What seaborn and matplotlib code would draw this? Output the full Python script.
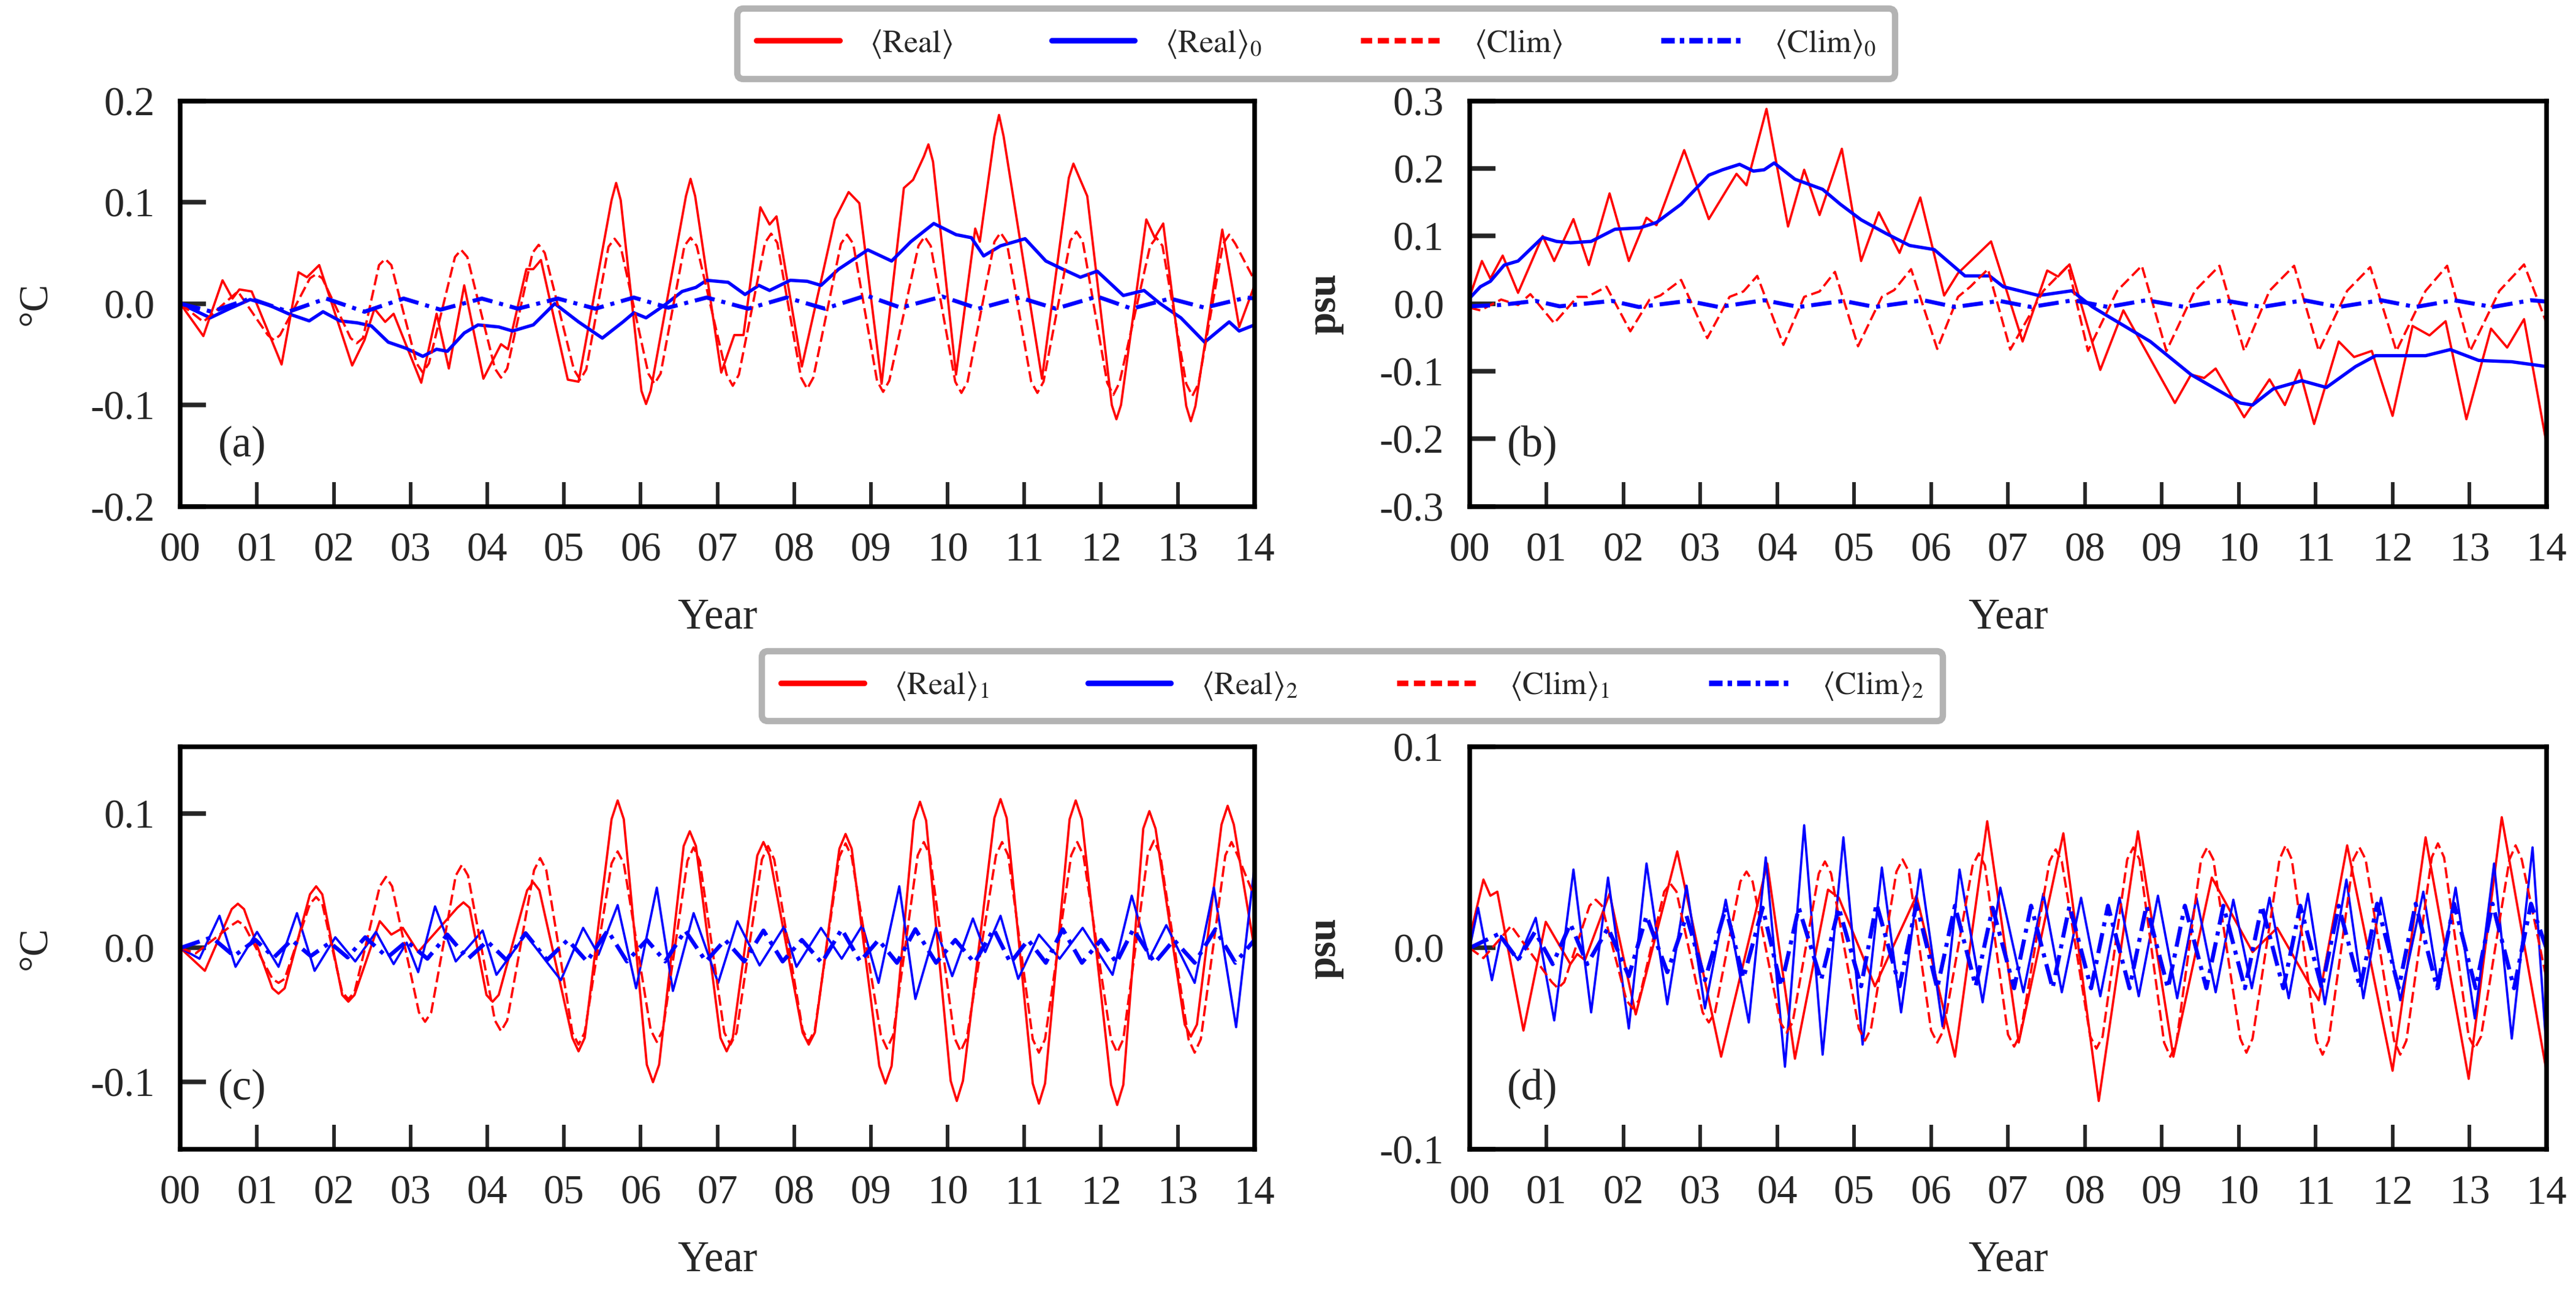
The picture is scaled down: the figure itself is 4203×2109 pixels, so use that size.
import pandas as pd
import matplotlib
matplotlib.use("Agg")
import matplotlib.pyplot as plt
import seaborn as sns
from matplotlib.lines import Line2D

# --- DATA ((year, value) pairs) ---
year_ticks = list(range(15))
year_labels = ["00", "01", "02", "03", "04", "05", "06", "07",
               "08", "09", "10", "11", "12", "13", "14"]

top_names = ["Real", "Real0", "Clim", "Clim0"]
top_labels = [r"$\langle\mathrm{Real}\rangle$", r"$\langle\mathrm{Real}\rangle_0$",
              r"$\langle\mathrm{Clim}\rangle$", r"$\langle\mathrm{Clim}\rangle_0$"]
bot_names = ["Real1", "Real2", "Clim1", "Clim2"]
bot_labels = [r"$\langle\mathrm{Real}\rangle_1$", r"$\langle\mathrm{Real}\rangle_2$",
              r"$\langle\mathrm{Clim}\rangle_1$", r"$\langle\mathrm{Clim}\rangle_2$"]

# (a) temperature, degC
a_real = [(0, 0), (0.30, -0.032), (0.55, 0.023), (0.68, 0.005), (0.77, 0.014), (0.93, 0.012),
          (1.32, -0.060), (1.54, 0.031), (1.65, 0.026), (1.81, 0.038), (2.24, -0.061), (2.40, -0.036),
          (2.53, -0.005), (2.67, -0.018), (2.78, -0.010), (3.14, -0.078), (3.34, -0.010), (3.50, -0.064),
          (3.70, 0.018), (3.95, -0.074), (4.18, -0.040), (4.27, -0.045), (4.51, 0.034), (4.60, 0.034),
          (4.70, 0.043), (5.05, -0.075), (5.19, -0.077), (5.62, 0.102), (5.68, 0.119), (5.74, 0.102),
          (6.01, -0.086), (6.07, -0.099), (6.13, -0.086), (6.59, 0.106), (6.65, 0.123), (6.71, 0.106),
          (7.05, -0.068), (7.22, -0.031), (7.34, -0.031), (7.56, 0.095), (7.68, 0.078), (7.77, 0.086),
          (8.10, -0.062), (8.53, 0.083), (8.71, 0.110), (8.85, 0.099), (9.14, -0.079), (9.43, 0.114),
          (9.55, 0.122), (9.69, 0.145), (9.75, 0.157), (9.81, 0.140), (10.11, -0.070), (10.36, 0.074),
          (10.42, 0.061), (10.61, 0.165), (10.67, 0.186), (10.73, 0.165), (11.23, -0.074), (11.58, 0.124),
          (11.64, 0.138), (11.82, 0.106), (12.14, -0.100), (12.20, -0.114), (12.26, -0.100), (12.59, 0.083),
          (12.70, 0.065), (12.81, 0.079), (13.11, -0.101), (13.17, -0.116), (13.23, -0.101), (13.58, 0.073),
          (13.80, -0.023), (14.0, 0.018)]
a_real0 = [(0, 0), (0.39, -0.014), (0.64, -0.005), (0.91, 0.004), (1.14, -0.001), (1.41, -0.010),
           (1.68, -0.017), (1.86, -0.008), (2.08, -0.017), (2.31, -0.019), (2.49, -0.022), (2.71, -0.038),
           (2.94, -0.044), (3.16, -0.052), (3.34, -0.045), (3.48, -0.047), (3.70, -0.029), (3.88, -0.021),
           (4.15, -0.023), (4.33, -0.027), (4.60, -0.021), (4.88, 0.000), (5.19, -0.018), (5.50, -0.034),
           (5.77, -0.018), (5.91, -0.009), (6.07, -0.014), (6.32, -0.001), (6.54, 0.012), (6.72, 0.016),
           (6.86, 0.023), (7.14, 0.021), (7.36, 0.009), (7.54, 0.018), (7.68, 0.013), (7.95, 0.023),
           (8.17, 0.022), (8.35, 0.018), (8.58, 0.034), (8.96, 0.053), (9.27, 0.042), (9.52, 0.061),
           (9.82, 0.079), (10.11, 0.068), (10.31, 0.065), (10.47, 0.047), (10.69, 0.057), (11.01, 0.064),
           (11.28, 0.042), (11.50, 0.034), (11.73, 0.026), (11.95, 0.032), (12.29, 0.008), (12.56, 0.013),
           (12.77, 0.000), (13.04, -0.014), (13.35, -0.038), (13.67, -0.018), (13.80, -0.027), (14.0, -0.021)]
a_clim = [(0, 0), (0.30, -0.018), (0.75, 0.012),
          (1.14, -0.031), (1.22, -0.036), (1.30, -0.031), (1.69, 0.025), (1.77, 0.029), (1.85, 0.025),
          (2.22, -0.034), (2.30, -0.039), (2.38, -0.034), (2.59, 0.038), (2.67, 0.044), (2.75, 0.038),
          (3.08, -0.059), (3.16, -0.068), (3.24, -0.059), (3.58, 0.046), (3.66, 0.053), (3.74, 0.046),
          (4.10, -0.064), (4.18, -0.073), (4.26, -0.064), (4.59, 0.050), (4.67, 0.058), (4.75, 0.050),
          (5.13, -0.065), (5.21, -0.075), (5.29, -0.065), (5.58, 0.056), (5.66, 0.064), (5.74, 0.056),
          (6.10, -0.069), (6.18, -0.079), (6.26, -0.069), (6.57, 0.057), (6.65, 0.065), (6.73, 0.057),
          (7.12, -0.070), (7.20, -0.081), (7.28, -0.070), (7.62, 0.060), (7.70, 0.069), (7.78, 0.060),
          (8.09, -0.073), (8.17, -0.084), (8.25, -0.073), (8.61, 0.059), (8.69, 0.068), (8.77, 0.059),
          (9.08, -0.076), (9.16, -0.087), (9.24, -0.076), (9.62, 0.057), (9.70, 0.066), (9.78, 0.057),
          (10.10, -0.077), (10.18, -0.088), (10.26, -0.077), (10.61, 0.061), (10.69, 0.070), (10.77, 0.061),
          (11.09, -0.077), (11.17, -0.088), (11.25, -0.077), (11.60, 0.062), (11.68, 0.071), (11.76, 0.062),
          (12.08, -0.078), (12.16, -0.090), (12.24, -0.078), (12.64, 0.057), (12.72, 0.065), (12.80, 0.057),
          (13.11, -0.079), (13.19, -0.091), (13.27, -0.079), (13.59, 0.059), (13.67, 0.068), (13.75, 0.059),
          (14.0, 0.023)]
a_clim0 = [(0, 0), (0.41, -0.008), (0.91, 0.005), (1.41, -0.008), (1.90, 0.005), (2.40, -0.008),
           (2.91, 0.005), (3.39, -0.006), (3.93, 0.005), (4.40, -0.005), (4.92, 0.005), (5.41, -0.005),
           (5.91, 0.006), (6.36, -0.004), (6.86, 0.006), (7.40, -0.005), (7.90, 0.006), (8.40, -0.005),
           (8.94, 0.008), (9.39, -0.004), (9.93, 0.007), (10.40, -0.005), (10.94, 0.006), (11.41, -0.005),
           (11.95, 0.007), (12.40, -0.005), (12.90, 0.005), (13.35, -0.004), (13.90, 0.006), (14.0, 0.005)]

# (b) salinity, psu
b_real = [(0, 0.010), (0.16, 0.063), (0.27, 0.037), (0.43, 0.071), (0.63, 0.016), (0.95, 0.100),
          (1.10, 0.063), (1.35, 0.125), (1.55, 0.057), (1.82, 0.163), (2.07, 0.063), (2.30, 0.127),
          (2.43, 0.116), (2.79, 0.227), (3.11, 0.125), (3.47, 0.192), (3.60, 0.175), (3.86, 0.288),
          (4.14, 0.114), (4.35, 0.198), (4.55, 0.131), (4.84, 0.229), (5.09, 0.063), (5.32, 0.135),
          (5.59, 0.075), (5.86, 0.157), (6.17, 0.012), (6.35, 0.045), (6.78, 0.092), (7.19, -0.056),
          (7.51, 0.049), (7.65, 0.040), (7.80, 0.058), (8.20, -0.098), (8.50, -0.010), (9.17, -0.147),
          (9.38, -0.105), (9.55, -0.110), (9.70, -0.096), (10.07, -0.168), (10.40, -0.112), (10.60, -0.150),
          (10.79, -0.098), (10.98, -0.178), (11.30, -0.056), (11.50, -0.079), (11.73, -0.070), (12.00, -0.166),
          (12.26, -0.033), (12.48, -0.047), (12.69, -0.026), (12.96, -0.171), (13.28, -0.037), (13.49, -0.065),
          (13.71, -0.023), (14.0, -0.206)]
b_real0 = [(0, 0.008), (0.14, 0.025), (0.27, 0.033), (0.45, 0.057), (0.63, 0.063), (0.95, 0.098),
           (1.13, 0.092), (1.31, 0.090), (1.58, 0.092), (1.89, 0.110), (2.21, 0.112), (2.43, 0.120),
           (2.75, 0.147), (3.11, 0.190), (3.29, 0.198), (3.51, 0.206), (3.69, 0.196), (3.83, 0.198),
           (3.96, 0.208), (4.23, 0.184), (4.59, 0.169), (4.82, 0.147), (5.09, 0.124), (5.41, 0.104),
           (5.72, 0.086), (6.04, 0.080), (6.44, 0.041), (6.76, 0.041), (6.94, 0.025), (7.40, 0.012),
           (7.83, 0.019), (8.10, -0.005), (8.85, -0.056), (9.38, -0.105), (10.02, -0.147), (10.18, -0.150),
           (10.45, -0.126), (10.82, -0.114), (11.14, -0.124), (11.52, -0.093), (11.78, -0.077), (12.43, -0.077),
           (12.75, -0.068), (13.12, -0.084), (13.55, -0.086), (14.0, -0.093)]
b_clim = [(0, -0.006), (0.14, -0.010), (0.41, 0.006), (0.63, -0.002), (0.79, 0.014), (1.10, -0.029),
          (1.40, 0.010), (1.53, 0.010), (1.78, 0.025), (2.09, -0.041), (2.34, 0.006), (2.48, 0.012),
          (2.75, 0.035), (3.09, -0.051), (3.38, 0.010), (3.56, 0.018), (3.74, 0.041), (4.08, -0.061),
          (4.35, 0.010), (4.55, 0.018), (4.75, 0.047), (5.05, -0.063), (5.36, 0.010), (5.52, 0.020),
          (5.74, 0.051), (6.08, -0.067), (6.35, 0.010), (6.51, 0.025), (6.74, 0.051), (7.03, -0.068),
          (7.46, 0.019), (7.78, 0.056), (8.04, -0.070), (8.42, 0.019), (8.74, 0.056), (9.06, -0.070),
          (9.43, 0.019), (9.75, 0.056), (10.07, -0.070), (10.40, 0.019), (10.72, 0.056), (11.04, -0.070),
          (11.41, 0.019), (11.71, 0.054), (12.05, -0.070), (12.43, 0.019), (12.71, 0.056), (13.01, -0.070),
          (13.39, 0.019), (13.71, 0.058), (14.0, -0.028)]
b_clim0 = [(0, -0.004), (0.40, -0.002), (0.86, 0.004), (1.17, -0.004), (1.85, 0.004), (2.20, -0.005),
           (2.84, 0.004), (3.24, -0.005), (3.83, 0.005), (4.28, -0.005), (4.86, 0.004), (5.27, -0.005),
           (5.90, 0.005), (6.31, -0.005), (6.89, 0.004), (7.30, -0.005), (7.85, 0.005), (8.30, -0.005),
           (8.80, 0.005), (9.30, -0.005), (9.80, 0.005), (10.30, -0.005), (10.85, 0.005), (11.30, -0.005),
           (11.85, 0.005), (12.30, -0.005), (12.80, 0.005), (13.30, -0.005), (13.80, 0.005), (14.0, 0.003)]

# (c) temperature components, degC
c_real1 = [(0, 0), (0.32, -0.017),
           (0.67, 0.029), (0.75, 0.033), (0.83, 0.029), (1.20, -0.030), (1.28, -0.034), (1.36, -0.030),
           (1.69, 0.040), (1.77, 0.046), (1.85, 0.040), (2.11, -0.035), (2.19, -0.040), (2.27, -0.035),
           (2.60, 0.020), (2.75, 0.010), (2.90, 0.015), (3.10, -0.003),
           (3.61, 0.030), (3.69, 0.034), (3.77, 0.030), (3.99, -0.035), (4.07, -0.040), (4.15, -0.035),
           (4.52, 0.043), (4.60, 0.049), (4.68, 0.043), (5.11, -0.067), (5.19, -0.077), (5.27, -0.067),
           (5.62, 0.096), (5.70, 0.110), (5.78, 0.096), (6.08, -0.087), (6.16, -0.100), (6.24, -0.087),
           (6.56, 0.076), (6.64, 0.087), (6.72, 0.076), (7.04, -0.067), (7.12, -0.077), (7.20, -0.067),
           (7.52, 0.069), (7.60, 0.079), (7.68, 0.069), (8.11, -0.063), (8.19, -0.072), (8.27, -0.063),
           (8.59, 0.074), (8.67, 0.085), (8.75, 0.074), (9.11, -0.088), (9.19, -0.101), (9.27, -0.088),
           (9.56, 0.095), (9.64, 0.109), (9.72, 0.095), (10.04, -0.099), (10.12, -0.114), (10.20, -0.099),
           (10.61, 0.097), (10.69, 0.111), (10.77, 0.097), (11.11, -0.101), (11.19, -0.116), (11.27, -0.101),
           (11.59, 0.096), (11.67, 0.110), (11.75, 0.096), (12.13, -0.102), (12.21, -0.117), (12.29, -0.102),
           (12.55, 0.089), (12.63, 0.102), (12.71, 0.089), (13.09, -0.057), (13.17, -0.066), (13.25, -0.057),
           (13.57, 0.092), (13.65, 0.106), (13.73, 0.092), (14.0, -0.001)]
c_real2 = [(0, 0), (0.25, -0.008), (0.51, 0.024), (0.72, -0.014), (1.00, 0.012), (1.28, -0.014),
           (1.52, 0.026), (1.75, -0.017), (2.02, 0.008), (2.28, -0.010), (2.55, 0.012), (2.78, -0.012),
           (2.95, 0.004), (3.10, -0.018), (3.32, 0.031), (3.59, -0.010), (3.94, 0.013), (4.12, -0.020),
           (4.50, 0.010), (4.96, -0.024), (5.25, 0.015), (5.45, -0.005), (5.70, 0.032), (5.94, -0.030),
           (6.21, 0.045), (6.42, -0.032), (6.69, 0.026), (7.01, -0.026), (7.26, 0.020), (7.55, -0.013),
           (7.87, 0.016), (8.03, -0.014), (8.35, 0.015), (8.62, -0.008), (8.89, 0.017), (9.10, -0.026),
           (9.37, 0.046), (9.58, -0.038), (9.85, 0.015), (10.06, -0.021), (10.33, 0.022), (10.49, -0.003),
           (10.69, 0.024), (10.92, -0.023), (11.19, 0.010), (11.46, -0.008), (11.76, 0.015), (12.15, -0.020),
           (12.40, 0.039), (12.63, -0.008), (12.85, 0.017), (13.22, -0.026), (13.47, 0.045), (13.76, -0.059),
           (14.0, 0.061)]
c_clim1 = [(0, 0), (0.20, -0.004),
           (0.67, 0.017), (0.75, 0.020), (0.83, 0.017), (1.20, -0.023), (1.28, -0.026), (1.36, -0.023),
           (1.69, 0.033), (1.77, 0.038), (1.85, 0.033), (2.11, -0.033), (2.19, -0.038), (2.27, -0.033),
           (2.60, 0.046), (2.68, 0.053), (2.76, 0.046), (3.11, -0.048), (3.19, -0.055), (3.27, -0.048),
           (3.59, 0.054), (3.67, 0.062), (3.75, 0.054), (4.10, -0.054), (4.18, -0.062), (4.26, -0.054),
           (4.61, 0.058), (4.69, 0.067), (4.77, 0.058), (5.11, -0.063), (5.19, -0.072), (5.27, -0.063),
           (5.62, 0.063), (5.70, 0.072), (5.78, 0.063), (6.13, -0.061), (6.21, -0.070), (6.29, -0.061),
           (6.61, 0.065), (6.69, 0.075), (6.77, 0.065), (7.09, -0.063), (7.17, -0.072), (7.25, -0.063),
           (7.58, 0.066), (7.66, 0.076), (7.74, 0.066), (8.11, -0.061), (8.19, -0.070), (8.27, -0.061),
           (8.59, 0.068), (8.67, 0.078), (8.75, 0.068), (9.13, -0.065), (9.21, -0.075), (9.29, -0.065),
           (9.61, 0.069), (9.69, 0.079), (9.77, 0.069), (10.09, -0.067), (10.17, -0.077), (10.25, -0.067),
           (10.63, 0.069), (10.71, 0.079), (10.79, 0.069), (11.11, -0.068), (11.19, -0.078), (11.27, -0.068),
           (11.61, 0.069), (11.69, 0.079), (11.77, 0.069), (12.13, -0.068), (12.21, -0.078), (12.29, -0.068),
           (12.61, 0.070), (12.69, 0.080), (12.77, 0.070), (13.14, -0.068), (13.22, -0.078), (13.30, -0.068),
           (13.62, 0.069), (13.70, 0.079), (13.78, 0.069), (14.0, 0.038)]
c_clim2 = [(0, 0), (0.41, 0.008), (0.70, -0.006), (0.98, 0.006), (1.22, -0.007), (1.45, 0.006),
           (1.70, -0.006), (1.95, 0.004), (2.18, -0.007), (2.41, 0.008), (2.70, -0.007), (2.95, 0.005),
           (3.22, -0.008), (3.48, 0.010), (3.75, -0.008), (4.00, 0.005), (4.25, -0.009), (4.50, 0.011),
           (4.78, -0.009), (5.05, 0.006), (5.30, -0.010), (5.57, 0.013), (5.82, -0.010), (6.08, 0.006),
           (6.32, -0.010), (6.58, 0.013), (6.85, -0.010), (7.10, 0.006), (7.35, -0.010), (7.60, 0.013),
           (7.85, -0.010), (8.10, 0.006), (8.36, -0.011), (8.62, 0.014), (8.86, -0.010), (9.10, 0.006),
           (9.34, -0.011), (9.58, 0.014), (9.85, -0.011), (10.10, 0.006), (10.35, -0.011), (10.60, 0.014),
           (10.82, -0.011), (11.05, 0.006), (11.28, -0.011), (11.50, 0.014), (11.75, -0.011), (12.00, 0.006),
           (12.20, -0.011), (12.42, 0.014), (12.70, -0.011), (12.95, 0.006), (13.22, -0.011), (13.49, 0.014),
           (13.75, -0.011), (14.0, 0.006)]

# (d) salinity components, psu
d_real1 = [(0, 0.005), (0.18, 0.034), (0.27, 0.026), (0.36, 0.028), (0.70, -0.041), (0.99, 0.013),
           (1.31, -0.008), (1.40, -0.003), (1.50, -0.006), (1.82, 0.027), (2.16, -0.033), (2.70, 0.048),
           (3.27, -0.054), (3.87, 0.042), (4.23, -0.055), (4.66, 0.029), (4.80, 0.025), (5.27, -0.019),
           (5.81, 0.026), (6.31, -0.054), (6.73, 0.063), (7.14, -0.047), (7.72, 0.057), (8.18, -0.076),
           (8.69, 0.058), (9.15, -0.054), (9.65, 0.035), (10.18, -0.002), (10.50, 0.010), (11.04, -0.026),
           (11.41, 0.051), (12.00, -0.061), (12.43, 0.055), (12.99, -0.065), (13.42, 0.065), (14.0, -0.061)]
d_real2 = [(0, 0), (0.11, 0.020), (0.29, -0.016), (0.41, 0.006), (0.63, -0.006), (0.86, 0.015),
           (1.10, -0.036), (1.35, 0.039), (1.58, -0.032), (1.80, 0.035), (2.07, -0.040), (2.30, 0.042),
           (2.57, -0.028), (2.82, 0.031), (3.06, -0.030), (3.33, 0.024), (3.63, -0.037), (3.85, 0.045),
           (4.10, -0.059), (4.35, 0.061), (4.59, -0.053), (4.86, 0.055), (5.11, -0.048), (5.36, 0.040),
           (5.61, -0.032), (5.86, 0.039), (6.15, -0.039), (6.37, 0.039), (6.67, -0.027), (6.90, 0.030),
           (7.20, -0.022), (7.46, 0.027), (7.70, -0.022), (7.95, 0.025), (8.20, -0.024), (8.45, 0.025),
           (8.70, -0.024), (8.95, 0.026), (9.20, -0.025), (9.45, 0.025), (9.70, -0.022), (9.93, 0.024),
           (10.17, -0.020), (10.40, 0.025), (10.65, -0.025), (10.90, 0.027), (11.12, -0.028), (11.40, 0.034),
           (11.62, -0.025), (11.85, 0.025), (12.10, -0.026), (12.40, 0.028), (12.60, -0.020), (12.82, 0.030),
           (13.07, -0.035), (13.32, 0.042), (13.55, -0.045), (13.82, 0.050), (14.0, -0.050)]
d_clim1 = [(0, 0), (0.18, -0.005), (0.54, 0.011),
           (1.07, -0.017), (1.15, -0.020), (1.23, -0.017), (1.56, 0.021), (1.64, 0.024), (1.72, 0.021),
           (2.04, -0.026), (2.12, -0.030), (2.20, -0.026), (2.53, 0.028), (2.61, 0.032), (2.69, 0.028),
           (3.03, -0.032), (3.11, -0.037), (3.19, -0.032), (3.52, 0.033), (3.60, 0.038), (3.68, 0.033),
           (4.04, -0.037), (4.12, -0.042), (4.20, -0.037), (4.54, 0.037), (4.62, 0.043), (4.70, 0.037),
           (5.06, -0.040), (5.14, -0.046), (5.22, -0.040), (5.55, 0.038), (5.63, 0.044), (5.71, 0.038),
           (6.00, -0.041), (6.08, -0.047), (6.16, -0.041), (6.54, 0.041), (6.62, 0.047), (6.70, 0.041),
           (7.00, -0.043), (7.08, -0.049), (7.16, -0.043), (7.54, 0.043), (7.62, 0.049), (7.70, 0.043),
           (8.07, -0.044), (8.15, -0.050), (8.23, -0.044), (8.55, 0.044), (8.63, 0.050), (8.71, 0.044),
           (9.03, -0.047), (9.11, -0.054), (9.19, -0.047), (9.51, 0.044), (9.59, 0.050), (9.67, 0.044),
           (10.02, -0.045), (10.10, -0.052), (10.18, -0.045), (10.53, 0.044), (10.61, 0.051), (10.69, 0.044),
           (11.01, -0.046), (11.09, -0.053), (11.17, -0.046), (11.49, 0.044), (11.57, 0.050), (11.65, 0.044),
           (12.02, -0.046), (12.10, -0.053), (12.18, -0.046), (12.51, 0.045), (12.59, 0.052), (12.67, 0.045),
           (12.99, -0.044), (13.07, -0.050), (13.15, -0.044), (13.52, 0.044), (13.60, 0.051), (13.68, 0.044),
           (14.0, -0.015)]
d_clim2 = [(0, 0), (0.38, 0.007), (0.63, -0.006), (0.85, 0.008), (1.08, -0.008), (1.31, 0.012),
           (1.53, -0.008), (1.80, 0.010), (2.07, -0.014), (2.30, 0.016), (2.57, -0.012), (2.82, 0.016),
           (3.06, -0.016), (3.33, 0.020), (3.56, -0.015), (3.81, 0.020), (4.05, -0.019), (4.28, 0.020),
           (4.57, -0.016), (4.80, 0.020), (5.09, -0.019), (5.29, 0.022), (5.59, -0.019), (5.81, 0.022),
           (6.08, -0.020), (6.31, 0.021), (6.58, -0.019), (6.80, 0.020), (7.08, -0.020), (7.30, 0.021),
           (7.58, -0.020), (7.80, 0.021), (8.08, -0.020), (8.30, 0.021), (8.58, -0.020), (8.80, 0.021),
           (9.08, -0.020), (9.30, 0.021), (9.58, -0.020), (9.80, 0.021), (10.08, -0.020), (10.30, 0.021),
           (10.58, -0.020), (10.80, 0.021), (11.08, -0.020), (11.30, 0.021), (11.58, -0.020), (11.80, 0.022),
           (12.08, -0.020), (12.30, 0.022), (12.58, -0.020), (12.80, 0.022), (13.08, -0.020), (13.30, 0.022),
           (13.58, -0.020), (13.80, 0.022), (14.0, 0.0)]

# --- STYLE ---
sns.set_style("white")
plt.rcParams["font.family"] = ["Liberation Serif", "DejaVu Serif"]
plt.rcParams["mathtext.fontset"] = "stix"
plt.rcParams["axes.unicode_minus"] = False

role_color = ["red", "blue", "red", "blue"]
role_dash = ["", "", (4.8, 2.0), (5.0, 1.7, 1.0, 1.7)]
top_width = [0.9, 1.3, 0.9, 1.6]
bot_width = [0.9, 0.9, 0.9, 1.6]


def to_frame(names, series):
    rows = []
    for name, pts in zip(names, series):
        for t, v in pts:
            rows.append((name, t, v))
    return pd.DataFrame(rows, columns=["series", "year", "value"])


fig = plt.figure(figsize=(14.01, 7.03))
ax_a = fig.add_axes([0.070, 0.608, 0.417, 0.314])
ax_b = fig.add_axes([0.5705, 0.608, 0.418, 0.314])
ax_c = fig.add_axes([0.070, 0.1105, 0.417, 0.3115])
ax_d = fig.add_axes([0.5705, 0.1105, 0.418, 0.3115])

panels = [
    (ax_a, top_names, [a_real, a_real0, a_clim, a_clim0], top_width, (-0.2, 0.2),
     [-0.2, -0.1, 0.0, 0.1, 0.2], "\u00b0C", "normal", "(a)"),
    (ax_b, top_names, [b_real, b_real0, b_clim, b_clim0], top_width, (-0.3, 0.3),
     [-0.3, -0.2, -0.1, 0.0, 0.1, 0.2, 0.3], "psu", "bold", "(b)"),
    (ax_c, bot_names, [c_real1, c_real2, c_clim1, c_clim2], bot_width, (-0.15, 0.15),
     [-0.1, 0.0, 0.1], "\u00b0C", "normal", "(c)"),
    (ax_d, bot_names, [d_real1, d_real2, d_clim1, d_clim2], bot_width, (-0.1, 0.1),
     [-0.1, 0.0, 0.1], "psu", "bold", "(d)"),
]

for ax, names, series, widths, ylim, yticks, ylab, ywt, tag in panels:
    df = to_frame(names, series)
    sns.lineplot(
        data=df, x="year", y="value",
        hue="series", style="series", size="series",
        hue_order=names, style_order=names, size_order=names,
        palette=dict(zip(names, role_color)),
        dashes=dict(zip(names, role_dash)),
        sizes=dict(zip(names, widths)),
        estimator=None, sort=True, legend=False, ax=ax,
    )
    ax.set_xlim(0, 14)
    ax.set_ylim(*ylim)
    ax.set_xticks(year_ticks)
    ax.set_xticklabels(year_labels)
    ax.set_yticks(yticks)
    ax.set_yticklabels([f"{v:.1f}" for v in yticks])
    ax.tick_params(axis="x", direction="in", length=9.5, width=1.4, pad=10,
                   labelsize=16, top=False, bottom=True)
    ax.tick_params(axis="y", direction="in", length=10, width=1.8, pad=10,
                   labelsize=16, left=True, right=False)
    for sp in ax.spines.values():
        sp.set_visible(True)
        sp.set_color("black")
        sp.set_linewidth(1.8)
    ax.set_xlabel("Year", fontsize=17, labelpad=11)
    ax.set_ylabel(ylab, fontsize=16, fontweight=ywt, labelpad=14)
    ax.text(0.035, 0.15, tag, transform=ax.transAxes, fontsize=17,
            ha="left", va="center")
    ax.grid(False)


def legend_handles():
    return [Line2D([0], [0], color="red", lw=2.2),
            Line2D([0], [0], color="blue", lw=2.2),
            Line2D([0], [0], color="red", lw=2.2, dashes=(2.0, 1.0)),
            Line2D([0], [0], color="blue", lw=2.2, dashes=(2.4, 0.9, 0.8, 0.9))]


for labels, anchor in [(top_labels, (0.511, 0.966)), (bot_labels, (0.525, 0.469))]:
    leg = fig.legend(legend_handles(), labels, loc="center", bbox_to_anchor=anchor,
                     ncol=4, fontsize=12.5, handlelength=2.6, handletextpad=0.95,
                     columnspacing=3.1, frameon=True, fancybox=True,
                     edgecolor="#a0a0a0", borderpad=0.6)
    leg.get_frame().set_linewidth(2.5)

fig.savefig("out.png", dpi=300)
